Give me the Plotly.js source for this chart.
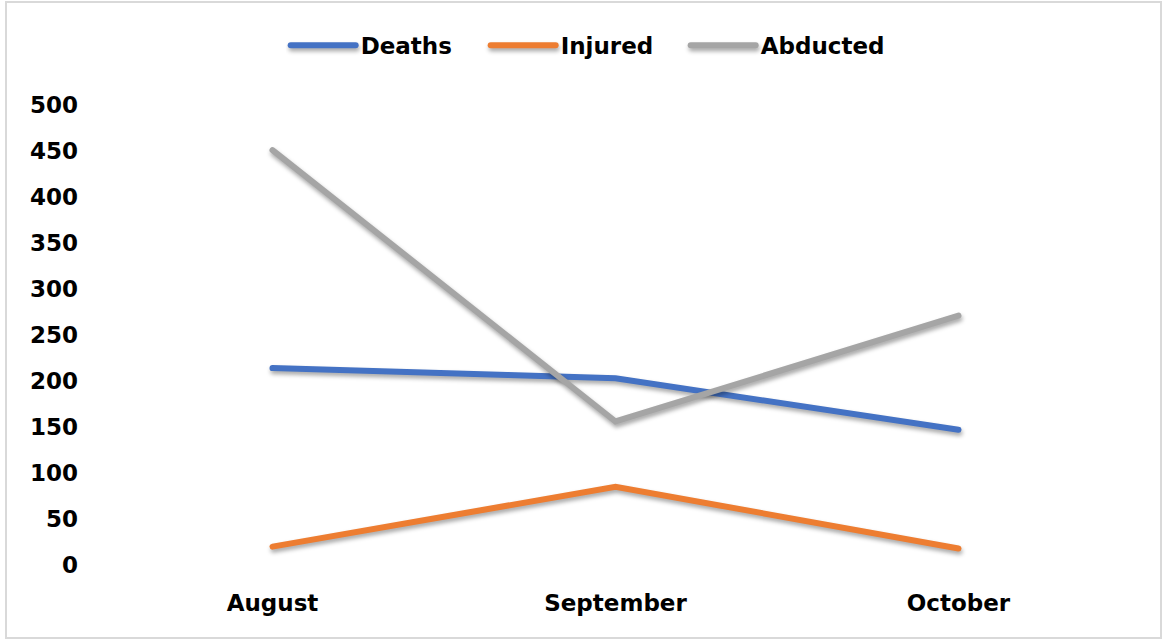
<!DOCTYPE html>
<html>
<head>
<meta charset="utf-8">
<script src="https://cdn.plot.ly/plotly-3.0.1.min.js"></script>
<style>
  html, body { margin: 0; padding: 0; background: #ffffff; }
  #wrap { position: relative; width: 1163px; height: 640px; }
  #chart { position: absolute; left: 0; top: 0; width: 1163px; height: 640px; }
  #frame { position: absolute; left: 5px; top: 1px; width: 1153px; height: 634px;
           border: 2px solid #d9d9d9; pointer-events: none; }
  .js-line { stroke-linecap: round; filter: drop-shadow(1px 3px 2px rgba(0,0,0,0.35)); }
  .legendlines path { stroke-linecap: round; }
</style>
</head>
<body>
<div id="wrap">
  <div id="chart"></div>
  <div id="frame"></div>
</div>
<script>
const months = ["August", "September", "October"];
const deaths = [214, 203, 147];
const injured = [20, 85, 18];
const abducted = [451, 156, 271];
const yTicks = [0, 50, 100, 150, 200, 250, 300, 350, 400, 450, 500];

const font = "DejaVu Sans, sans-serif";

function series(name, values, color) {
  return {
    type: "scatter", mode: "lines", name: name,
    x: months, y: values,
    line: { color: color, width: 6 },
    hoverinfo: "skip"
  };
}

const data = [
  series("Deaths", deaths, "#4472C4"),
  series("Injured", injured, "#ED7D31"),
  series("Abducted", abducted, "#A5A5A5")
];

const layout = {
  width: 1163, height: 640,
  margin: { l: 101, r: 33, t: 105, b: 75 },
  paper_bgcolor: "#ffffff", plot_bgcolor: "#ffffff",
  showlegend: true,
  legend: {
    orientation: "h", x: 0.471, xref: "paper", xanchor: "center",
    y: 1.13, yanchor: "middle",
    font: { family: font, size: 23, color: "#000000", weight: "bold" },
    itemwidth: 65,
    entrywidth: 120, entrywidthmode: "pixels"
  },
  xaxis: {
    type: "category", range: [-0.5, 2.5],
    showgrid: false, zeroline: false, showline: false, ticks: "",
    ticklabelstandoff: 22,
    tickfont: { family: font, size: 23, color: "#000000", weight: "bold" }
  },
  yaxis: {
    range: [0, 500], tickvals: yTicks, ticktext: yTicks.map(String),
    showgrid: false, zeroline: false, showline: false, ticks: "",
    ticklabelstandoff: 22,
    tickfont: { family: font, size: 23, color: "#000000", weight: "bold" }
  }
};

Plotly.newPlot("chart", data, layout, { staticPlot: true, displayModeBar: false });
</script>
</body>
</html>
